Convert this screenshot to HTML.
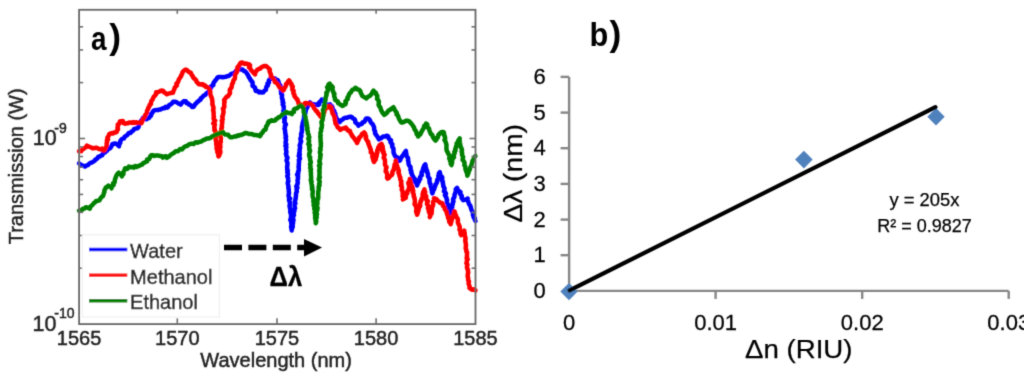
<!DOCTYPE html>
<html><head><meta charset="utf-8"><style>
html,body{margin:0;padding:0;background:#fff;}
body{width:1024px;height:378px;overflow:hidden;}
svg{display:block;}
text{font-family:"Liberation Sans",sans-serif;fill:#222;}
.m text{stroke:#222;stroke-width:0.45px;}
.c text{fill:#000;stroke:#000;stroke-width:0.25px;}
</style></head><body>
<svg width="1024" height="378" viewBox="0 0 1024 378">
<defs><filter id="bl" x="0" y="0" width="1024" height="378" filterUnits="userSpaceOnUse"><feConvolveMatrix order="3" kernelMatrix="0.01917 0.10012 0.01917 0.10012 0.52283 0.10012 0.01917 0.10012 0.01917" edgeMode="duplicate" preserveAlpha="false"/></filter></defs>
<rect width="1024" height="378" fill="#fff"/>
<g filter="url(#bl)">
<g class="m">
<!-- panel a -->
<g fill="none" stroke-width="4.5" stroke-linejoin="round" stroke-linecap="round">
<polyline stroke="#0000ff" points="79.00,163.30 80.48,164.59 82.09,165.45 83.69,165.92 84.85,166.55 86.22,165.58 87.87,165.08 89.08,163.88 90.30,162.87 91.94,162.51 93.23,161.62 94.63,160.86 95.30,159.57 96.54,158.98 97.54,158.10 98.21,156.82 99.73,156.56 100.72,155.63 102.26,155.38 102.77,153.88 103.72,152.92 105.10,152.46 105.89,151.30 107.10,150.65 107.83,149.41 109.01,148.72 110.31,148.04 111.06,146.89 111.74,145.68 112.23,144.32 113.40,143.67 115.10,143.53 116.57,143.66 117.63,144.85 118.98,146.26 119.08,144.89 119.67,143.73 120.33,142.60 120.22,141.14 120.99,139.99 122.13,138.83 123.96,138.37 124.58,136.67 125.88,136.07 127.01,135.22 127.94,134.11 128.83,132.96 130.53,132.98 131.53,131.48 133.14,130.71 134.06,128.96 135.52,128.55 137.24,128.33 138.49,127.13 138.84,125.32 139.30,124.07 140.23,122.99 140.98,121.85 141.25,120.54 142.19,119.47 143.06,117.93 144.57,118.77 146.29,119.22 147.82,118.29 149.02,117.85 149.91,116.67 151.09,115.63 150.96,113.82 152.34,112.95 152.93,111.52 154.09,110.45 155.38,110.11 156.70,109.91 158.14,110.15 159.39,109.40 160.83,109.39 162.04,108.50 163.37,108.02 164.72,108.14 165.84,106.73 167.29,107.59 168.44,106.54 169.17,105.07 170.69,104.45 171.96,103.28 173.07,101.82 175.04,101.73 176.48,102.17 177.67,103.01 178.97,103.65 180.60,104.57 181.62,103.16 182.89,102.06 184.12,101.12 185.92,101.33 186.60,103.19 188.47,103.39 189.09,104.68 190.48,105.07 191.44,105.97 192.10,106.99 193.74,106.67 194.50,105.38 195.23,104.05 196.37,103.18 197.19,101.99 198.43,101.35 199.23,100.26 200.52,99.67 200.91,98.16 202.12,97.50 202.93,96.42 203.91,95.51 205.35,94.83 206.25,93.61 207.44,92.68 208.66,91.78 209.78,90.62 209.61,88.99 210.90,88.20 210.81,86.62 212.03,85.79 213.34,85.01 213.31,83.46 213.92,82.28 214.75,81.24 215.68,80.03 216.66,78.86 217.40,77.49 218.53,76.90 219.88,77.07 221.28,76.89 222.63,77.32 224.10,77.08 225.58,76.86 226.96,76.26 228.42,76.02 229.74,75.32 230.75,74.26 232.04,73.64 233.54,73.32 234.73,72.49 235.74,71.27 236.76,70.08 238.17,69.37 239.03,68.87 240.68,69.52 242.67,69.60 243.69,70.79 245.21,71.38 246.30,72.47 247.14,73.84 247.99,75.01 248.49,76.40 249.20,77.67 250.11,78.73 250.54,80.18 251.79,81.27 252.59,82.55 252.63,84.19 252.53,85.84 253.96,86.72 255.11,87.74 255.28,89.26 255.75,90.98 257.73,90.95 259.10,92.41 260.43,91.87 261.77,92.58 263.33,92.29 264.26,90.84 265.83,89.91 266.15,88.05 266.53,86.60 267.93,85.49 267.42,83.73 269.01,82.69 268.69,80.99 269.57,79.53 271.00,78.60 272.33,78.65 273.67,78.68 275.05,78.55 275.78,79.93 277.75,80.03 278.40,81.63 278.77,82.95 278.51,84.50 280.35,85.27 280.24,86.77 281.03,88.02 281.10,89.37 280.86,90.78 281.20,92.08 281.06,93.47 282.07,94.64 282.00,96.01 281.86,97.45 282.16,98.82 282.83,100.14 282.48,101.61 283.45,102.89 282.62,104.42 283.44,105.72 283.74,107.10 283.69,108.45 283.55,109.82 283.30,111.18 284.11,112.48 284.28,113.83 284.01,115.20 284.65,116.51 285.05,117.83 284.18,119.24 284.73,120.56 284.24,121.95 285.15,123.24 285.95,124.54 284.83,125.97 284.96,127.31 284.50,128.69 285.00,130.01 285.16,131.32 285.13,132.64 285.57,133.94 285.48,135.26 286.09,136.55 285.46,137.91 286.04,139.19 285.98,140.52 285.62,141.86 285.62,143.18 286.42,144.45 285.36,145.83 286.42,147.09 285.95,148.44 285.98,149.76 286.34,151.06 286.43,152.37 285.89,153.72 286.31,155.02 286.56,156.33 287.49,157.59 287.16,158.93 286.51,160.29 286.96,161.58 287.47,162.87 287.43,164.20 287.38,165.52 287.08,166.86 287.27,168.17 287.11,169.50 287.88,170.77 287.27,172.13 287.91,173.41 287.91,174.73 287.21,176.09 287.92,177.37 288.08,178.68 288.18,179.99 288.35,181.32 287.71,182.70 287.88,184.03 288.23,185.34 288.53,186.65 288.30,188.00 288.83,189.30 288.73,190.64 288.85,191.97 289.07,193.29 288.58,194.67 288.63,196.00 288.90,197.31 290.22,198.55 288.90,199.99 289.43,201.28 289.97,202.58 289.91,203.92 289.57,205.28 289.65,206.61 289.88,207.93 290.25,209.24 290.39,210.57 290.18,211.92 290.63,213.22 291.04,214.53 291.04,215.86 290.95,217.21 290.87,218.55 290.24,219.93 291.72,221.16 291.12,222.54 291.43,223.85 291.39,225.19 291.09,226.55 291.23,227.88 291.86,229.17 291.69,230.48 291.53,229.15 292.17,227.91 292.82,226.67 292.39,225.31 292.91,224.06 293.06,222.76 293.09,221.45 293.50,220.19 293.20,218.84 293.07,217.52 293.09,216.21 294.03,215.00 293.70,213.65 293.86,212.36 294.45,211.11 293.98,209.75 295.10,208.56 294.83,207.22 294.53,205.87 294.64,204.58 295.43,203.35 294.72,201.96 295.08,200.69 295.47,199.42 295.69,198.14 295.77,196.83 296.06,195.56 295.93,194.23 296.17,192.94 296.84,191.71 296.75,190.39 296.49,189.04 297.46,187.84 296.20,186.39 297.14,185.18 297.51,183.91 297.77,182.63 297.59,181.30 297.55,179.99 298.02,178.68 297.82,177.32 298.17,176.01 297.00,174.58 298.33,173.33 297.98,171.96 298.73,170.68 298.75,169.33 298.84,168.00 298.51,166.63 298.93,165.32 298.73,163.96 299.04,162.64 299.00,161.30 298.82,159.94 299.99,158.68 299.61,157.31 298.66,155.90 299.87,154.65 299.10,153.25 299.64,151.94 299.60,150.60 299.72,149.26 300.11,147.95 299.99,146.60 299.66,145.23 300.30,143.94 300.54,142.62 301.23,141.36 300.57,139.93 300.44,138.57 300.91,137.28 301.46,136.01 301.04,134.61 301.27,133.29 301.91,132.03 301.86,130.67 302.11,129.36 301.95,128.00 302.04,126.66 302.39,125.36 302.62,124.04 302.71,122.71 303.16,121.44 303.54,120.13 303.88,118.80 304.19,117.47 304.02,116.02 304.28,114.67 305.32,113.53 305.37,112.13 305.74,110.82 305.97,109.28 306.96,108.13 307.48,106.74 308.07,105.38 308.82,104.11 309.91,102.37 310.96,103.43 312.09,104.31 313.62,104.15 314.80,104.94 316.35,104.48 318.11,105.05 319.27,104.22 319.12,102.42 320.23,101.55 321.54,100.82 321.79,99.49 322.87,100.60 324.49,101.25 324.94,102.89 325.86,104.45 327.14,104.78 328.48,104.61 329.98,104.37 330.81,105.45 331.96,106.29 332.53,107.56 332.60,109.05 333.50,110.13 334.39,111.21 333.90,112.80 335.43,113.65 334.84,115.28 335.86,116.31 336.10,117.68 337.07,119.09 338.26,120.33 339.65,122.01 340.70,120.81 341.93,119.89 343.19,118.98 344.25,118.11 345.58,117.76 347.07,117.73 348.18,117.10 349.83,116.91 350.50,116.65 352.06,117.37 353.10,118.52 354.61,119.28 355.28,120.75 355.31,122.46 356.63,123.31 357.64,124.37 358.44,125.71 359.47,124.40 360.95,124.24 361.99,123.72 362.51,122.42 364.20,121.93 365.04,120.85 365.46,119.48 366.27,118.53 367.99,118.43 369.36,119.30 370.06,120.56 370.61,121.92 371.41,123.13 372.52,124.06 373.16,125.29 373.82,126.51 374.16,127.83 374.13,129.27 374.56,130.56 375.17,131.80 374.98,133.29 375.79,134.53 376.79,135.73 377.66,137.01 378.37,138.39 378.98,139.41 380.02,138.60 381.38,138.21 382.22,137.12 383.38,136.40 384.94,136.62 386.25,135.76 387.26,135.74 388.40,136.77 388.59,138.33 389.65,139.41 391.14,140.41 390.45,142.06 391.38,143.22 392.41,144.34 392.06,145.89 392.44,147.22 393.37,148.38 393.52,149.77 393.50,151.22 393.59,152.64 394.11,154.00 394.75,155.33 395.45,156.63 397.34,157.32 397.41,158.94 397.77,160.42 397.68,161.09 399.52,160.81 400.33,159.78 400.60,158.35 401.50,157.37 402.09,156.22 403.19,155.07 403.99,153.74 404.80,152.42 405.98,151.00 405.80,152.47 406.41,153.73 406.27,155.18 406.84,156.45 407.85,157.61 408.17,158.94 407.95,160.42 408.50,161.69 408.49,163.11 408.71,164.49 409.39,165.72 410.41,166.85 410.63,168.23 410.39,169.74 411.38,170.88 411.00,172.44 411.83,173.63 412.01,175.02 412.92,176.18 413.03,177.58 414.67,178.41 414.40,180.20 414.81,181.65 415.97,182.71 416.62,184.04 416.98,185.49 417.59,184.20 417.86,182.75 418.95,181.66 418.71,179.99 420.25,179.10 419.94,177.40 420.70,176.20 421.91,175.14 421.51,173.54 421.70,172.14 422.76,171.02 422.83,169.58 423.20,168.23 423.78,166.96 424.20,165.63 425.26,164.30 425.64,165.61 425.04,167.20 426.24,168.29 426.00,169.77 427.23,170.85 426.88,172.36 427.90,173.50 427.98,174.90 427.94,176.33 428.73,177.53 429.63,178.72 429.42,180.17 429.59,181.52 429.64,182.91 430.54,184.08 430.60,185.46 430.79,186.81 431.74,187.98 431.48,189.44 432.07,190.69 431.92,192.12 432.36,193.38 432.86,192.14 432.59,190.58 433.91,189.68 434.34,188.41 434.65,187.09 435.31,185.94 435.43,184.60 436.35,183.51 436.91,182.31 437.28,181.05 437.27,179.67 438.45,178.66 438.55,177.31 438.28,175.86 438.97,174.69 438.82,173.27 439.84,172.19 440.00,173.66 440.26,175.10 441.32,176.26 442.27,177.47 442.15,179.04 442.05,180.59 442.95,181.81 442.79,183.22 443.22,184.51 443.21,185.89 443.83,187.14 444.56,188.38 444.41,189.78 443.89,191.26 445.29,192.36 446.05,193.59 444.84,195.21 445.74,196.41 446.38,197.65 446.64,198.98 447.25,200.24 446.68,201.73 447.15,203.02 447.83,204.26 448.15,205.60 448.56,206.93 448.41,208.42 449.27,209.60 449.10,211.10 450.30,212.18 450.17,213.55 450.50,212.21 450.76,210.85 451.21,209.53 451.91,208.26 452.26,206.92 451.69,205.39 452.85,204.22 452.69,202.77 453.53,201.53 453.16,200.04 453.20,198.61 454.19,197.46 454.53,196.12 454.53,194.67 455.11,193.40 455.55,192.09 456.01,190.78 455.68,189.24 457.07,187.83 457.48,189.19 458.22,190.31 459.26,191.21 460.51,192.13 459.96,193.84 461.07,194.82 461.87,195.94 461.48,197.57 462.17,198.74 463.20,200.18 464.58,199.74 465.95,199.28 467.65,198.57 467.82,200.12 468.24,201.58 468.67,203.03 469.26,204.43 470.33,205.65 470.72,207.13 471.04,208.43 471.41,209.72 472.08,210.91 472.84,212.06 473.04,213.40 472.91,214.86 473.44,216.09 473.65,217.43 474.96,218.40 474.83,219.81 475.50,221.00"/>
<polyline stroke="#ff0000" points="79.00,151.30 81.10,151.24 82.24,149.40 83.57,148.84 84.59,147.89 85.83,147.22 86.87,145.60 88.05,146.40 89.42,146.74 91.23,147.48 92.72,148.39 94.45,148.06 96.24,147.70 97.77,148.08 99.00,149.15 100.54,149.40 102.16,148.67 103.28,150.58 104.66,150.35 105.10,148.83 106.03,147.50 106.59,146.01 106.74,144.67 106.61,143.28 107.22,142.01 106.79,140.57 108.12,139.42 107.35,137.84 108.19,136.64 108.74,135.34 109.23,134.08 111.51,133.11 113.13,133.53 113.96,132.41 115.85,132.58 116.89,131.78 117.07,130.40 118.08,129.19 117.43,127.64 118.04,126.34 117.69,124.59 119.25,123.63 119.82,121.56 122.87,120.97 123.47,123.20 125.43,123.72 126.69,123.30 128.00,123.22 129.23,122.45 130.60,122.45 131.90,123.01 133.20,122.04 134.50,122.95 135.80,122.18 137.50,122.90 139.20,122.42 141.40,123.27 142.08,121.88 142.50,120.30 142.97,118.76 144.17,117.87 144.93,116.67 145.10,115.24 146.06,114.12 146.81,112.92 146.93,111.47 147.30,110.12 148.23,108.99 148.35,107.53 149.41,106.41 149.68,104.89 151.01,103.91 151.03,102.26 151.42,100.81 152.49,99.69 153.05,98.23 153.75,96.85 154.82,95.69 155.91,94.54 156.09,92.32 157.77,92.37 159.05,91.65 160.35,90.98 161.54,90.61 163.09,90.76 163.70,92.17 164.96,92.69 165.94,93.60 166.96,94.28 168.27,93.76 169.57,93.22 171.01,93.08 172.98,92.86 173.29,91.44 173.88,90.17 174.45,88.88 174.77,87.46 175.80,86.42 177.00,85.40 176.38,83.57 177.70,82.58 178.34,81.30 178.65,79.87 179.40,78.64 180.19,77.41 181.01,76.31 181.38,74.96 182.18,73.85 182.41,72.42 183.16,71.44 184.32,70.38 185.56,69.57 186.93,70.08 187.93,71.20 189.00,72.20 190.57,72.46 191.15,73.71 191.75,74.95 192.66,75.99 193.08,77.34 194.02,78.37 195.14,79.18 196.10,80.29 196.61,81.83 197.64,82.88 198.70,84.20 200.11,84.20 201.44,84.51 202.92,84.17 203.79,85.52 205.38,85.61 205.99,87.01 207.55,87.14 208.50,88.09 209.36,89.11 209.90,90.42 210.32,91.76 210.05,93.26 210.46,94.61 210.89,95.95 211.49,97.24 211.99,98.56 212.19,99.97 212.42,101.40 212.45,102.85 212.36,104.33 212.93,105.70 213.38,107.10 213.53,108.54 213.02,110.03 213.53,111.34 213.59,112.67 213.66,114.01 213.63,115.35 213.89,116.67 213.58,118.03 213.80,119.35 215.28,120.60 214.34,122.00 213.25,123.41 214.95,124.63 214.49,126.00 214.22,127.36 214.72,128.67 214.29,130.05 215.43,131.33 215.57,132.72 215.31,134.15 215.67,135.51 215.94,136.88 215.46,138.33 215.72,139.70 215.97,141.08 216.27,142.45 216.16,143.86 216.45,145.23 216.83,146.59 216.51,148.04 216.88,149.45 217.30,150.84 217.39,152.31 218.38,153.57 218.34,155.07 218.41,156.46 219.39,155.31 219.39,153.94 220.28,152.78 220.38,151.43 219.96,149.99 219.76,148.64 220.43,147.34 220.21,145.99 220.33,144.66 220.06,143.31 220.77,142.01 220.68,140.67 220.84,139.34 220.88,138.01 220.49,136.65 220.06,135.29 220.88,133.99 220.81,132.65 220.93,131.32 221.56,130.04 221.30,128.66 222.05,127.39 221.69,126.01 222.02,124.69 222.09,123.35 222.34,122.03 221.70,120.62 222.73,119.38 222.50,118.00 222.23,116.63 222.97,115.36 223.01,114.01 223.51,112.72 223.44,111.36 223.44,110.02 222.83,108.56 224.23,107.32 224.31,105.94 224.19,104.53 224.22,103.14 224.66,101.80 224.02,100.34 224.67,99.21 225.74,98.01 226.73,96.70 228.33,96.05 228.84,94.73 229.84,93.60 230.08,92.18 229.70,90.51 230.09,89.14 231.27,88.09 231.68,86.72 231.88,85.27 232.15,83.85 233.06,82.65 233.17,81.17 233.79,79.87 234.81,78.69 234.99,77.24 235.02,75.75 235.29,74.32 236.03,73.03 237.13,71.84 236.71,70.22 237.93,69.07 237.45,67.33 238.43,66.26 239.52,65.25 239.86,63.74 240.90,62.72 242.30,62.46 243.45,63.48 244.71,63.93 246.18,63.52 247.45,64.10 248.94,64.24 250.15,65.35 249.04,67.47 250.38,68.52 250.95,70.00 252.15,71.23 253.28,72.51 255.11,74.35 254.88,72.04 256.37,71.06 257.42,69.66 258.79,68.96 260.30,68.50 261.41,67.24 262.94,66.49 264.56,66.03 266.19,66.04 267.11,66.99 268.18,67.74 268.81,68.42 269.86,69.58 269.56,71.01 269.94,72.30 270.53,73.55 271.01,74.83 270.74,76.41 272.27,77.37 273.22,78.80 274.49,79.97 274.75,81.92 276.35,82.79 277.56,83.99 278.28,85.25 279.07,86.45 279.77,87.72 280.97,88.37 282.00,89.34 283.06,90.61 284.04,89.53 284.18,87.89 285.34,86.92 285.91,85.59 286.15,83.89 287.60,82.89 288.14,81.37 289.00,80.33 289.97,81.54 290.51,82.94 291.61,84.10 291.65,85.72 292.80,86.77 292.40,88.30 292.36,89.71 293.69,90.72 293.33,92.23 293.51,93.58 294.49,94.69 294.42,96.19 295.41,97.29 296.25,98.48 297.40,99.50 297.73,100.94 298.36,101.96 298.63,104.08 300.34,104.43 301.64,105.27 302.40,105.97 304.37,105.41 304.59,103.42 305.82,102.93 307.43,103.32 309.12,103.49 310.88,103.82 311.74,105.01 313.11,105.69 313.60,107.25 314.26,108.44 315.29,109.54 316.02,110.83 317.37,111.74 317.82,113.20 318.98,114.12 319.89,115.35 320.64,116.73 322.77,118.00 322.50,116.37 323.05,115.12 322.96,113.57 324.25,112.66 324.44,111.24 324.84,109.92 325.49,108.51 326.97,107.87 327.86,106.66 328.86,105.91 330.25,106.43 331.40,107.30 331.26,108.90 331.91,110.28 332.32,111.73 332.46,113.25 333.32,114.57 334.16,115.90 334.44,117.18 335.06,118.36 334.70,119.81 335.32,120.99 335.33,122.34 335.55,123.63 336.44,124.60 337.15,126.02 337.83,127.46 339.18,128.35 340.29,129.84 341.48,129.08 342.71,128.45 344.08,128.36 345.83,127.52 346.29,129.09 347.62,129.49 348.25,130.84 350.01,130.97 350.26,132.46 350.89,133.73 351.77,134.86 352.27,136.21 353.35,137.22 354.13,138.35 355.03,139.35 355.57,140.62 356.45,141.64 357.08,142.94 357.58,141.60 358.18,140.31 358.86,139.06 359.17,137.61 360.38,136.66 361.31,135.61 361.91,134.07 363.26,133.30 364.16,132.39 365.18,133.62 365.40,135.16 366.15,136.49 365.65,138.30 366.57,139.57 367.17,140.94 368.27,141.98 368.20,143.40 368.92,144.56 369.15,145.88 369.91,147.03 370.06,148.38 370.82,149.53 370.85,150.92 370.74,152.35 372.31,153.27 372.64,154.70 372.31,156.28 372.55,157.72 373.34,159.03 373.33,160.54 374.05,161.97 374.79,160.59 375.78,159.34 375.76,157.64 376.57,156.49 376.72,155.18 376.70,153.83 377.47,152.67 377.11,151.23 377.36,149.94 378.64,148.91 378.15,147.44 379.51,146.43 379.39,145.36 381.50,143.86 381.93,145.18 382.74,146.43 382.23,147.97 383.12,149.19 382.21,150.82 383.74,151.90 383.38,153.40 384.69,154.63 384.02,156.20 383.63,157.72 384.55,159.01 384.94,160.40 385.05,161.83 384.97,163.30 385.02,164.75 385.69,166.08 386.61,167.24 385.94,168.68 385.92,170.01 385.64,171.38 386.69,172.51 386.92,173.79 387.42,175.02 387.16,176.39 387.00,177.74 387.63,178.62 388.92,177.95 389.62,176.66 390.71,175.78 391.83,174.98 392.44,173.72 392.29,172.26 392.85,170.99 393.83,169.83 393.86,168.41 394.29,167.11 394.53,165.75 394.66,164.36 395.25,163.10 395.64,161.78 395.80,160.40 395.75,161.82 396.47,163.05 396.46,164.46 397.13,165.70 397.19,167.09 398.06,168.29 398.35,169.62 398.91,170.89 398.35,172.44 398.94,173.70 399.39,174.99 399.56,176.34 400.34,177.56 400.21,178.94 400.66,180.22 401.41,181.45 401.02,182.87 401.47,184.14 400.81,185.61 401.87,186.78 402.04,188.11 401.65,189.53 402.25,190.78 402.98,192.01 402.60,193.43 403.20,194.68 402.48,196.16 403.76,197.30 403.86,198.63 402.85,199.51 404.25,198.56 405.81,197.69 405.79,196.02 406.19,194.55 407.31,193.42 407.32,192.06 407.65,190.76 408.86,189.62 408.92,188.27 408.99,186.92 409.25,185.60 408.50,184.11 408.34,182.72 409.61,181.59 409.71,180.24 409.79,178.90 410.25,180.21 410.33,181.63 410.79,182.94 411.30,184.23 411.62,185.58 412.28,186.83 412.74,188.13 412.47,189.59 413.31,190.81 412.66,192.26 413.38,193.50 413.82,194.79 413.62,196.17 414.45,197.40 414.55,198.74 414.82,200.05 414.90,201.39 414.84,202.75 414.52,204.16 415.33,205.38 416.15,206.61 416.27,207.94 416.85,209.20 416.09,210.68 416.24,212.01 416.66,213.30 417.13,214.64 417.60,213.34 417.96,212.01 418.44,210.71 418.68,209.35 418.63,207.89 419.75,206.79 420.30,205.51 419.59,203.85 420.51,202.69 420.57,201.29 421.53,200.13 421.58,198.73 422.57,197.57 422.80,196.22 422.55,194.74 422.89,193.42 423.19,192.09 423.97,190.88 424.45,189.42 424.24,190.86 425.25,192.01 424.63,193.55 425.16,194.81 426.09,195.99 426.25,197.34 426.21,198.74 426.47,200.07 427.97,201.11 427.12,202.70 426.92,204.12 427.94,205.28 428.56,206.53 427.85,208.05 428.49,209.30 428.78,210.61 428.89,211.97 429.86,213.14 429.92,214.51 430.36,215.79 429.77,217.10 430.36,215.87 430.37,214.51 431.67,213.43 431.54,212.04 431.95,210.77 431.29,209.26 432.12,208.08 432.43,206.79 432.84,205.51 433.23,204.24 433.05,202.83 433.29,201.52 434.29,200.38 435.07,199.19 433.94,198.28 435.64,198.65 436.85,199.55 437.67,200.86 439.02,201.69 440.18,202.87 441.98,202.96 442.76,204.07 442.74,205.58 443.95,206.47 444.60,207.65 444.72,209.09 445.57,210.17 446.49,211.27 446.63,212.65 447.11,213.91 447.47,215.21 448.09,216.43 448.04,217.87 448.81,219.04 449.33,220.28 449.15,221.77 450.31,222.80 450.68,224.29 451.03,222.99 451.13,221.60 451.74,220.39 451.53,218.90 452.59,217.83 452.54,216.39 453.02,215.14 453.85,213.99 453.91,212.59 454.55,211.42 454.99,212.87 455.29,214.38 456.06,215.70 456.36,217.21 457.54,218.38 457.94,219.87 457.85,221.32 457.94,222.74 458.50,224.05 459.17,225.35 459.66,226.68 459.91,228.06 459.41,229.60 460.50,230.80 460.51,232.24 460.47,233.68 461.13,235.10 461.64,233.76 463.30,233.33 463.60,231.81 464.29,230.71 464.23,232.11 464.79,233.45 464.54,234.86 465.00,236.21 465.42,237.56 465.58,238.94 465.21,240.36 465.45,241.73 465.68,243.10 465.93,244.47 465.99,245.85 465.73,247.27 465.75,248.66 466.40,249.99 466.29,251.32 467.19,252.58 467.01,253.92 466.93,255.24 467.10,256.56 466.57,257.91 467.73,259.16 466.83,260.54 466.85,261.86 466.35,263.22 467.47,264.46 467.20,265.80 466.90,267.14 467.20,268.45 468.00,269.71 467.87,271.04 468.26,272.34 467.89,273.69 467.74,275.03 467.63,276.36 468.09,277.62 468.11,278.94 468.20,280.25 469.06,281.46 468.64,282.83 468.68,284.14 469.27,285.39 469.71,286.66 469.47,288.05 470.72,288.80 471.93,289.76 473.92,289.29 475.50,290.40"/>
<polyline stroke="#008000" points="79.00,210.70 80.31,210.33 81.85,210.31 82.85,208.73 84.66,208.49 85.93,207.20 87.63,207.65 89.86,208.66 90.22,207.16 91.04,206.04 92.14,205.15 93.06,204.24 93.93,203.02 95.20,202.34 96.11,200.94 97.86,200.72 99.47,200.29 100.08,199.01 100.91,197.89 101.75,196.78 103.01,196.07 103.47,194.65 103.85,193.20 104.43,191.81 104.35,190.22 105.24,188.92 105.75,187.57 107.11,186.89 108.39,185.54 109.46,186.54 110.99,186.92 111.52,188.32 111.45,186.87 112.25,185.79 113.64,184.97 113.01,183.27 114.59,182.47 114.76,181.05 114.86,179.61 115.49,178.30 115.85,176.93 116.28,175.78 117.24,174.14 118.76,172.74 119.90,173.87 121.13,174.90 121.98,176.29 122.30,174.96 123.50,174.04 123.06,172.35 123.89,171.26 124.50,170.06 125.09,168.27 127.43,168.91 128.81,166.59 130.59,167.23 132.28,166.97 134.12,167.62 135.16,166.01 136.68,166.90 137.85,165.98 139.17,165.95 140.51,164.95 142.19,164.54 143.23,163.16 144.56,162.60 145.73,161.85 147.17,161.42 147.05,159.47 149.12,159.13 149.79,157.81 150.20,156.29 151.19,155.32 152.53,155.12 153.79,156.02 155.14,155.58 156.47,155.52 157.79,155.61 159.12,155.73 160.43,156.09 161.82,156.18 162.85,157.61 164.55,156.50 166.04,156.23 166.97,157.86 168.08,156.97 169.32,156.24 170.30,155.19 171.43,154.32 172.66,153.58 173.87,152.93 174.94,151.78 176.27,151.14 177.98,151.26 179.06,150.11 180.11,148.93 181.99,149.39 183.05,148.21 184.13,147.10 185.35,146.25 186.92,146.10 188.04,145.07 189.39,144.31 190.69,143.84 192.10,143.74 193.60,143.95 194.77,143.00 195.99,142.24 197.54,142.63 198.81,142.02 200.24,141.76 201.60,141.36 202.73,140.34 204.05,139.82 205.38,139.32 206.55,138.39 208.44,138.44 210.22,138.07 211.59,136.93 213.10,136.05 214.67,135.31 215.92,134.62 217.24,134.11 218.62,133.76 219.90,133.10 221.25,132.79 222.97,132.03 223.72,133.55 224.99,134.42 226.58,134.62 228.15,134.84 229.20,136.26 230.43,137.26 231.92,137.23 233.28,136.91 234.60,136.46 236.07,136.49 237.23,135.50 238.78,135.77 239.97,134.89 241.37,135.00 242.56,134.33 243.82,133.90 244.98,133.10 246.45,133.04 247.75,133.44 249.02,134.01 250.38,134.09 251.78,133.97 253.04,134.62 254.31,135.06 255.74,134.97 257.09,135.19 258.41,135.53 259.94,136.19 260.74,135.03 261.19,133.58 262.46,132.79 263.09,131.49 263.89,130.32 265.42,129.61 265.93,128.20 266.05,126.61 266.98,125.41 267.77,124.15 268.03,122.63 268.89,121.36 270.23,121.39 271.32,120.21 272.76,120.74 274.08,120.64 275.42,120.25 276.05,118.88 277.49,118.56 278.28,117.38 279.67,116.99 280.73,116.19 281.71,115.31 282.55,114.24 283.65,113.54 285.03,113.22 285.98,111.87 287.18,112.71 288.50,113.04 289.90,113.07 291.84,114.14 292.28,112.46 293.90,111.96 293.84,109.78 294.84,108.66 296.71,108.51 297.93,107.53 299.03,106.37 300.41,105.59 302.21,106.39 303.23,108.14 303.72,109.43 303.76,110.83 303.69,112.26 304.33,113.50 304.55,114.86 305.28,116.08 305.52,117.43 305.66,118.81 306.03,120.11 305.68,121.53 306.70,122.72 305.89,124.22 307.19,125.36 306.65,126.82 307.56,128.03 306.88,129.50 307.67,130.73 307.80,132.08 307.90,133.42 308.64,134.68 308.88,136.01 309.34,137.31 308.20,138.73 309.02,140.01 309.07,141.35 308.94,142.69 308.26,144.08 309.76,145.32 309.10,146.70 309.43,148.01 309.17,149.37 310.14,150.64 309.70,152.01 309.32,153.37 309.13,154.72 309.21,156.06 310.22,157.33 309.97,158.68 310.12,160.01 310.69,161.31 310.80,162.64 310.05,164.03 310.34,165.35 310.57,166.67 310.14,168.04 311.07,169.32 310.58,170.69 310.87,172.01 310.98,173.34 310.86,174.68 311.07,176.01 311.12,177.34 311.21,178.67 310.67,180.07 311.65,181.30 311.28,182.66 311.57,183.95 312.07,185.22 311.77,186.58 312.52,187.82 311.89,189.21 312.77,190.44 312.79,191.76 312.61,193.10 312.55,194.43 312.66,195.74 312.80,197.05 313.34,198.32 313.76,199.60 313.33,200.97 313.55,202.27 314.16,203.53 313.57,204.91 313.99,206.19 314.56,207.45 314.17,208.82 314.97,210.06 314.93,211.38 314.58,212.74 315.46,213.98 314.99,215.35 315.64,216.60 314.99,217.99 315.67,219.24 315.46,220.59 316.23,221.83 315.67,223.19 316.26,221.92 316.19,220.60 315.42,219.22 316.57,217.99 316.67,216.68 316.29,215.33 317.08,214.08 316.25,212.69 316.72,211.42 317.28,210.14 317.46,208.84 317.56,207.53 316.76,206.15 316.61,204.82 317.54,203.58 316.95,202.21 317.55,200.94 317.22,199.60 318.22,198.36 318.23,197.04 318.24,195.73 318.14,194.40 318.26,193.09 318.23,191.77 318.60,190.48 318.65,189.17 318.84,187.87 318.61,186.53 319.59,185.29 319.09,183.94 319.62,182.66 319.70,181.35 318.97,179.99 318.71,178.66 319.87,177.39 319.29,176.05 319.52,174.74 319.43,173.42 319.63,172.11 319.17,170.78 319.63,169.48 319.54,168.16 319.76,166.85 318.92,165.50 320.17,164.23 320.03,162.90 319.29,161.56 319.71,160.26 320.05,158.95 320.32,157.65 320.13,156.32 320.70,155.03 320.23,153.69 319.89,152.36 320.06,151.05 320.64,149.76 320.17,148.42 320.77,147.13 320.89,145.81 320.77,144.49 320.98,143.18 320.57,141.85 320.68,140.54 320.51,139.22 320.55,137.90 320.23,136.57 320.66,135.27 320.51,133.95 320.42,132.63 321.06,131.33 321.23,130.02 320.97,128.68 321.80,127.43 321.82,126.07 322.05,124.74 321.61,123.31 321.46,121.93 322.42,120.70 322.51,119.35 322.85,118.03 322.92,116.68 323.42,115.38 323.02,113.96 323.57,112.67 323.16,111.24 322.85,109.85 323.77,108.67 324.72,107.49 323.74,105.99 324.97,104.86 324.55,103.46 324.88,102.17 325.26,100.90 325.54,99.61 325.32,98.24 325.95,97.01 326.29,95.67 326.67,94.34 326.30,92.88 327.40,91.67 327.76,90.33 328.18,89.01 327.06,87.25 328.32,86.20 328.42,84.48 329.68,83.57 330.42,84.94 331.77,85.94 332.79,87.38 332.40,88.83 332.50,90.18 333.30,91.39 333.36,92.75 334.47,93.89 334.05,95.29 334.35,96.82 334.95,98.22 335.05,99.84 336.50,100.69 337.86,101.42 338.21,103.19 339.50,103.90 340.90,105.00 342.65,105.93 343.83,105.09 345.41,104.31 345.91,102.98 345.38,101.23 346.48,100.14 347.74,99.12 347.42,97.46 348.42,96.38 348.88,94.79 349.56,93.32 351.02,92.30 351.50,90.94 352.55,89.75 354.08,89.36 355.38,87.83 356.63,88.54 357.75,89.62 359.19,89.81 360.35,91.00 360.65,92.68 361.49,94.06 362.09,95.78 363.47,96.75 365.07,97.45 366.17,98.47 367.26,97.56 368.24,96.54 369.69,95.99 370.77,94.98 371.77,93.59 372.55,92.02 373.57,90.53 374.46,92.04 376.03,92.96 376.21,94.47 377.31,95.73 377.26,97.31 376.97,98.95 378.28,100.15 378.84,101.53 378.80,103.05 378.58,104.64 379.10,105.98 380.20,107.14 380.69,108.50 381.00,109.92 381.67,111.08 382.46,112.61 383.62,113.83 384.21,114.80 385.51,114.01 386.67,113.06 387.54,111.90 388.53,110.50 390.20,109.65 391.24,108.78 393.39,107.25 394.24,108.62 394.73,110.19 395.78,111.46 396.78,112.79 396.49,114.35 397.83,115.28 398.20,116.58 398.66,117.85 399.17,119.00 400.07,120.65 401.15,122.41 402.53,122.46 403.79,121.89 405.06,121.37 406.28,120.61 407.71,120.78 409.23,121.40 410.39,122.57 411.37,123.67 412.30,124.85 413.10,126.10 413.96,127.32 414.37,128.76 415.00,130.10 416.02,131.24 416.52,132.64 416.70,134.20 418.22,135.10 418.16,136.61 418.72,135.15 420.40,134.36 420.90,132.86 421.67,131.52 422.43,130.18 423.19,128.84 423.99,127.52 424.18,125.83 425.58,124.87 426.09,123.59 427.36,124.62 427.13,126.28 427.74,127.58 429.06,128.59 429.25,130.07 429.75,131.43 430.37,132.69 430.83,134.01 432.12,134.79 432.54,136.14 433.16,137.36 433.76,138.60 434.73,139.58 435.42,140.65 436.39,139.72 436.18,138.08 437.80,137.53 438.07,136.17 438.43,134.87 439.43,133.85 440.52,132.71 441.82,131.97 443.62,131.98 444.05,133.26 443.75,134.68 444.61,135.87 445.02,137.16 445.16,138.50 444.42,140.01 445.31,141.20 445.81,142.46 446.21,143.75 446.51,145.05 446.42,146.43 446.46,147.79 446.45,149.16 446.71,150.47 447.30,151.73 448.04,152.96 448.51,154.27 449.44,155.44 449.37,156.91 449.25,158.40 449.92,159.64 450.07,161.05 451.09,162.19 450.67,163.77 451.51,165.03 451.75,163.68 452.21,162.39 451.58,160.82 452.53,159.65 452.74,158.29 454.07,157.22 453.67,155.71 453.88,154.35 454.71,153.15 454.34,151.65 455.59,150.56 455.15,149.01 455.87,147.77 456.05,146.33 457.15,145.23 456.58,143.52 458.08,142.57 458.03,141.04 458.83,139.83 459.73,138.42 459.46,139.84 459.73,141.16 459.83,142.52 460.18,143.82 460.32,145.17 460.43,146.52 461.20,147.75 461.74,149.02 462.03,150.33 461.55,151.80 462.19,153.05 461.91,154.47 462.53,155.73 463.18,156.98 462.71,158.44 462.58,159.88 463.70,161.01 464.31,162.26 464.61,163.60 464.31,165.08 465.18,166.27 465.45,167.61 465.38,169.04 465.96,170.30 466.26,171.64 466.83,172.90 467.20,174.22 467.36,175.62 467.84,174.30 468.49,173.03 468.58,171.56 469.37,170.35 469.91,169.04 470.25,167.66 470.92,166.40 471.56,165.14 471.80,163.69 472.29,162.34 472.46,160.86 473.45,159.71 473.83,158.32 474.32,156.91 475.50,156.00"/>
</g>
<rect x="79.1" y="9.8" width="396.4" height="314.3" fill="none" stroke="#686868" stroke-width="1.8"/>
<g stroke="#6e6e6e" stroke-width="1.6"><line x1="79.1" y1="268.2" x2="83.1" y2="268.2"/><line x1="475.5" y1="268.2" x2="471.5" y2="268.2"/><line x1="79.1" y1="235.5" x2="83.1" y2="235.5"/><line x1="475.5" y1="235.5" x2="471.5" y2="235.5"/><line x1="79.1" y1="212.4" x2="83.1" y2="212.4"/><line x1="475.5" y1="212.4" x2="471.5" y2="212.4"/><line x1="79.1" y1="194.4" x2="83.1" y2="194.4"/><line x1="475.5" y1="194.4" x2="471.5" y2="194.4"/><line x1="79.1" y1="179.7" x2="83.1" y2="179.7"/><line x1="475.5" y1="179.7" x2="471.5" y2="179.7"/><line x1="79.1" y1="167.2" x2="83.1" y2="167.2"/><line x1="475.5" y1="167.2" x2="471.5" y2="167.2"/><line x1="79.1" y1="156.5" x2="83.1" y2="156.5"/><line x1="475.5" y1="156.5" x2="471.5" y2="156.5"/><line x1="79.1" y1="147.0" x2="83.1" y2="147.0"/><line x1="475.5" y1="147.0" x2="471.5" y2="147.0"/><line x1="79.1" y1="82.6" x2="83.1" y2="82.6"/><line x1="475.5" y1="82.6" x2="471.5" y2="82.6"/><line x1="79.1" y1="49.9" x2="83.1" y2="49.9"/><line x1="475.5" y1="49.9" x2="471.5" y2="49.9"/><line x1="79.1" y1="26.8" x2="83.1" y2="26.8"/><line x1="475.5" y1="26.8" x2="471.5" y2="26.8"/><line x1="79.1" y1="138.5" x2="85.1" y2="138.5"/><line x1="475.5" y1="138.5" x2="469.5" y2="138.5"/><line x1="177.3" y1="324.1" x2="177.3" y2="318.3"/><line x1="177.3" y1="9.8" x2="177.3" y2="13.8"/><line x1="277.0" y1="324.1" x2="277.0" y2="318.3"/><line x1="277.0" y1="9.8" x2="277.0" y2="13.8"/><line x1="376.1" y1="324.1" x2="376.1" y2="318.3"/><line x1="376.1" y1="9.8" x2="376.1" y2="13.8"/></g>
<!-- legend -->
<rect x="82.3" y="234.8" width="137" height="82.2" fill="#fff" stroke="#f0f0f0" stroke-width="1.2"/>
<g stroke-width="3.4">
<line x1="89" y1="249.5" x2="127.3" y2="249.5" stroke="#0000ff"/>
<line x1="89" y1="275.1" x2="127.3" y2="275.1" stroke="#ff0000"/>
<line x1="89" y1="300.7" x2="127.3" y2="300.7" stroke="#008000"/>
</g>
<g font-size="20">
<text x="130.1" y="257.6">Water</text>
<text x="130.1" y="283.5">Methanol</text>
<text x="130.1" y="309.2">Ethanol</text>
</g>
<!-- arrow -->
<line x1="224" y1="247.6" x2="306" y2="247.6" stroke="#000" stroke-width="5.5" stroke-dasharray="18 6.4"/>
<path d="M304,238.9 L322,247.6 L304,256.4 Z" fill="#000"/>
<text x="269.6" y="285.6" font-size="28" font-weight="bold" style="stroke:#000;stroke-width:0.3px;fill:#000" textLength="32.6" lengthAdjust="spacingAndGlyphs">Δλ</text>
<g font-weight="bold" style="fill:#000;stroke:none"><text x="91" y="49.7" font-size="33" style="stroke:none;fill:#000" textLength="15.5" lengthAdjust="spacingAndGlyphs">a</text><text x="109.3" y="48.9" font-size="35.5" style="stroke:none;fill:#000">)</text></g>
<g font-size="20"><text x="79.1" y="344.5" text-anchor="middle">1565</text><text x="177.3" y="344.5" text-anchor="middle">1570</text><text x="277.0" y="344.5" text-anchor="middle">1575</text><text x="376.1" y="344.5" text-anchor="middle">1580</text><text x="475.5" y="344.5" text-anchor="middle">1585</text></g>
<g font-size="20">
<text x="32.8" y="145.4" font-size="21.5">10</text><text x="54.3" y="132.6" font-size="14">-9</text>
<text x="32.6" y="330.5" font-size="21.5">10</text><text x="54.3" y="317.8" font-size="14">-10</text>
</g>
<text x="276.1" y="366.6" font-size="20" text-anchor="middle">Wavelength (nm)</text>
<text transform="translate(23.3,166.3) rotate(-90)" font-size="20" text-anchor="middle">Transmission (W)</text>
</g>
<g class="c">
<!-- panel b -->
<g stroke="#868686" stroke-width="2.4" fill="none">
<line x1="569.1" y1="76.9" x2="569.1" y2="290.9"/>
<line x1="569.1" y1="290.9" x2="1008.7" y2="290.9"/>
<line x1="560.6" y1="255.2" x2="569.1" y2="255.2"/><line x1="560.6" y1="219.6" x2="569.1" y2="219.6"/><line x1="560.6" y1="183.9" x2="569.1" y2="183.9"/><line x1="560.6" y1="148.2" x2="569.1" y2="148.2"/><line x1="560.6" y1="112.6" x2="569.1" y2="112.6"/><line x1="560.6" y1="76.9" x2="569.1" y2="76.9"/><line x1="715.6" y1="290.9" x2="715.6" y2="298.9"/><line x1="862.2" y1="290.9" x2="862.2" y2="298.9"/><line x1="1008.7" y1="290.9" x2="1008.7" y2="298.9"/>
</g>
<g fill="#4f81bd"><path d="M569.0,282.9 L577.7,291.6 L569.0,300.3 L560.3,291.6 Z"/><path d="M803.9,150.8 L812.7,159.6 L803.9,168.4 L795.1,159.6 Z"/><path d="M936.0,108.1 L944.7,116.8 L936.0,125.5 L927.3,116.8 Z"/></g>
<line x1="569.6" y1="290.3" x2="935.4" y2="107.2" stroke="#000" stroke-width="4.2" stroke-linecap="round"/>
<g font-size="22"><text transform="translate(545.8,297.9) scale(1,1.04)" text-anchor="end">0</text><text transform="translate(545.8,262.2) scale(1,1.04)" text-anchor="end">1</text><text transform="translate(545.8,226.6) scale(1,1.04)" text-anchor="end">2</text><text transform="translate(545.8,190.9) scale(1,1.04)" text-anchor="end">3</text><text transform="translate(545.8,155.2) scale(1,1.04)" text-anchor="end">4</text><text transform="translate(545.8,119.6) scale(1,1.04)" text-anchor="end">5</text><text transform="translate(545.8,83.9) scale(1,1.04)" text-anchor="end">6</text></g>
<g font-size="22" text-anchor="middle">
<text transform="translate(569.1,330.1) scale(1,1.04)">0</text>
<text transform="translate(715.6,330.1) scale(1,1.04)">0.01</text>
<text transform="translate(862.2,330.1) scale(1,1.04)">0.02</text>
<text transform="translate(1008.7,330.1) scale(1,1.04)">0.03</text>
</g>
<text x="745" y="358.3" font-size="25" textLength="107.5" lengthAdjust="spacingAndGlyphs">Δn (RIU)</text>
<text transform="translate(522,222.6) rotate(-90)" font-size="25" textLength="98.6" lengthAdjust="spacingAndGlyphs">Δλ (nm)</text>
<text x="889.4" y="205.7" font-size="18" textLength="70" lengthAdjust="spacingAndGlyphs">y = 205x</text>
<text x="877.3" y="231.7" font-size="19" textLength="94.6" lengthAdjust="spacingAndGlyphs">R² = 0.9827</text>
<g font-weight="bold"><text x="589.6" y="46" font-size="33" style="stroke:none;fill:#000" textLength="18.8" lengthAdjust="spacingAndGlyphs">b</text><text x="609.6" y="45.7" font-size="35.5" style="stroke:none;fill:#000">)</text></g>
</g>
</g>
</svg>
</body></html>
